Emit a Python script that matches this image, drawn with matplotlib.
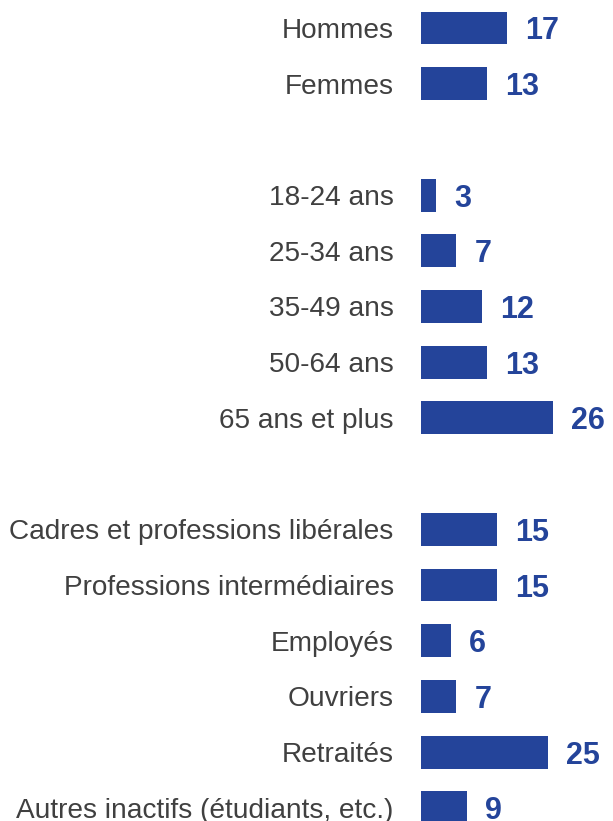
import matplotlib
matplotlib.use('Agg')
import matplotlib.pyplot as plt

plt.rcParams['font.family'] = ['Liberation Sans', 'DejaVu Sans']

sexe = ['Hommes', 'Femmes']
sexe_vals = [17, 13]

ages = ['18-24 ans', '25-34 ans', '35-49 ans', '50-64 ans', '65 ans et plus']
ages_vals = [3, 7, 12, 13, 26]

csp = ['Cadres et professions libérales', 'Professions intermédiaires',
       'Employés', 'Ouvriers', 'Retraités', 'Autres inactifs (étudiants, etc.)']
csp_vals = [15, 15, 6, 7, 25, 9]

bleu = '#24449a'
gris = '#404040'

# une ligne vide entre chaque groupe
labels = sexe + [None] + ages + [None] + csp
valeurs = sexe_vals + [None] + ages_vals + [None] + csp_vals

fig = plt.figure(figsize=(6.13, 8.21), dpi=100)
ax = fig.add_axes([0, 0, 1, 1])

px = 5.1  # pixels par unité
ax.set_xlim(-420.7 / px, (613 - 420.7) / px)
ax.set_ylim((821 - 28) / 55.7, -28 / 55.7)

for i, (lab, v) in enumerate(zip(labels, valeurs)):
    if lab is None:
        continue
    ax.barh(i, v, height=0.59, color=bleu, left=0)
    ax.text(-27 / px, i, lab, ha='right', va='center_baseline', fontsize=20.2, color=gris)
    ax.text(v + 18 / px, i, str(v), ha='left', va='center_baseline',
            fontsize=22, fontweight='bold', color=bleu)

ax.axis('off')
fig.savefig('out.png', dpi=100)
